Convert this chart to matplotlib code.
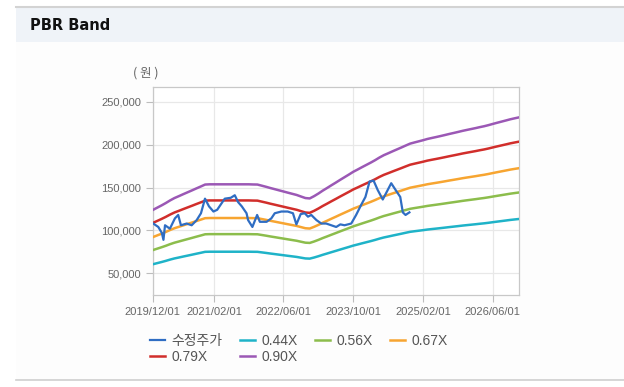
import matplotlib
matplotlib.use("Agg")
import matplotlib.pyplot as plt
import matplotlib.dates as mdates
from matplotlib.patches import Rectangle
from matplotlib.lines import Line2D
import pandas as pd

# ---------------- data ----------------
band_start = "2019-12-01"
# book value per share (won), monthly from 2019-12 to 2026-12
bps = [137500, 140500, 143500, 146500, 150000, 153000, 155500, 158000, 160500, 163000,
       165500, 168000, 170500, 170800, 170800, 170800, 170800, 170800, 170800, 170800,
       170800, 170800, 170800, 170600, 170500, 169000, 167500, 166000, 164500, 163000,
       161500, 160000, 158500, 157000, 155000, 153000, 152500, 155500, 159000, 162500,
       166000, 169500, 173000, 176500, 180000, 183500, 187000, 190000, 193000, 196000,
       199000, 202000, 205500, 208500, 211000, 213500, 216000, 218500, 221000, 223500,
       225000, 226500, 228000, 229500, 230800, 232000, 233300, 234600, 236000, 237300,
       238600, 240000, 241200, 242400, 243600, 244800, 246000, 247400, 249000, 250500,
       252000, 253500, 255000, 256300, 257500]
band_multiples = [0.44, 0.56, 0.67, 0.79, 0.90]
band_labels = ["0.44X", "0.56X", "0.67X", "0.79X", "0.90X"]

price_dates = ["2019-12-05", "2020-01-09", "2020-02-03", "2020-02-14", "2020-02-25",
               "2020-03-30", "2020-05-04", "2020-05-27", "2020-06-15", "2020-07-25",
               "2020-08-29", "2020-10-03", "2020-11-02", "2020-11-30", "2020-12-28",
               "2021-01-28", "2021-02-23", "2021-04-17", "2021-05-29", "2021-06-26",
               "2021-07-19", "2021-08-14", "2021-09-16", "2021-09-27", "2021-10-27",
               "2021-11-29", "2021-12-18", "2022-02-03", "2022-03-08", "2022-04-01",
               "2022-05-17", "2022-06-30", "2022-08-06", "2022-08-30", "2022-09-29",
               "2022-10-27", "2022-11-19", "2022-12-12", "2023-01-17", "2023-02-20",
               "2023-03-26", "2023-04-30", "2023-06-04", "2023-07-03", "2023-08-01",
               "2023-09-17", "2023-10-21", "2023-11-26", "2023-12-25", "2024-01-23",
               "2024-02-20", "2024-03-20", "2024-04-24", "2024-05-22", "2024-06-22",
               "2024-07-27", "2024-08-24", "2024-09-11", "2024-09-30", "2024-10-27"]
price_values = [108000, 104000, 97000, 89000, 106000, 102000, 114000, 118000, 106000, 108000,
                106000, 112000, 120000, 137000, 128000, 122000, 124000, 137000, 138000, 141000,
                133000, 128000, 120000, 112000, 104000, 118000, 110000, 110000, 114000, 120000,
                122000, 122000, 120000, 107000, 119000, 120000, 116000, 118000, 112000, 108000,
                108000, 106000, 104000, 107000, 106000, 108000, 118000, 130000, 139000, 157000,
                158000, 147000, 136000, 145000, 155000, 146000, 139000, 121000, 118000, 121000]
price_label = "수정주가"

xtick_dates = ["2019-12-01", "2021-02-01", "2022-06-01", "2023-10-01", "2025-02-01", "2026-06-01"]
ytick_values = [50000, 100000, 150000, 200000, 250000]

# ---------------- style ----------------
colors_band = ["#1FB3C8", "#8CBD4C", "#F7A531", "#D12E2B", "#9B58B5"]
color_price = "#2F6DC3"
W, H = 624, 387

fig = plt.figure(figsize=(W / 100, H / 100), dpi=100)
fig.patch.set_facecolor("white")

def fx(px):
    return px / W

def fy(py):
    return 1 - py / H

# header & panel backgrounds
fig.patches.append(Rectangle((fx(16), fy(380)), fx(W - 16), (380 - 42) / H,
                             transform=fig.transFigure, facecolor="#FDFDFD",
                             edgecolor="none", zorder=-2))
fig.patches.append(Rectangle((fx(16), fy(42)), fx(W - 16), (42 - 7) / H,
                             transform=fig.transFigure, facecolor="#EFF3F8",
                             edgecolor="none", zorder=-2))
fig.lines.append(Line2D([fx(16), 1], [fy(6.5), fy(6.5)], transform=fig.transFigure,
                        color="#D3D3D3", lw=1.5, zorder=-1))
fig.lines.append(Line2D([fx(16), 1], [fy(380), fy(380)], transform=fig.transFigure,
                        color="#CFCFCF", lw=1.2, zorder=-1))
fig.text(fx(30), fy(25), "PBR Band", fontsize=10.5, fontweight="bold",
         family=["DejaVu Sans"], color="#111111", va="center", ha="left")

ax = fig.add_axes([fx(152.7), fy(295), (519 - 152.7) / W, (295 - 86.7) / H])
ax.set_zorder(5)
ax.set_facecolor("white")

band_dates = pd.date_range(band_start, periods=len(bps), freq="MS")
handles = []
pdates = pd.to_datetime(price_dates)
hp, = ax.plot(pdates, price_values, color=color_price, lw=1.6, zorder=5, label=price_label)
for m, lab, c in zip(band_multiples, band_labels, colors_band):
    vals = [m * b for b in bps]
    h, = ax.plot(band_dates, vals, color=c, lw=1.8, zorder=3, label=lab)
    handles.append(h)

ax.set_xlim(pd.Timestamp("2019-12-01"), pd.Timestamp("2026-12-01"))
ax.set_ylim(24700, 267500)
ax.set_xticks(pd.to_datetime(xtick_dates))
ax.xaxis.set_major_formatter(mdates.DateFormatter("%Y/%m/%d"))
ax.set_yticks(ytick_values)
ax.set_yticklabels([f"{v:,}" for v in ytick_values])

ax.grid(True, color="#E8E8E8", lw=0.9)
ax.set_axisbelow(True)
for s in ax.spines.values():
    s.set_color("#C8C8C8")
    s.set_linewidth(0.9)
ax.tick_params(axis="both", colors="#BDBDBD", length=5, width=0.8,
               labelcolor="#666666", labelsize=8)
for t in ax.get_xticklabels() + ax.get_yticklabels():
    t.set_family(["Liberation Sans", "DejaVu Sans"])

fig.text(fx(146), fy(73), "( 원 )", fontsize=9, color="#666666",
         family=["Noto Sans CJK KR"], ha="center", va="center")

# legend laid out row-wise: 수정주가, 0.44X, 0.56X, 0.67X / 0.79X, 0.90X
order_h = [hp, handles[3], handles[0], handles[4], handles[1], handles[2]]
order_l = [price_label, band_labels[3], band_labels[0], band_labels[4], band_labels[1], band_labels[2]]
leg = fig.legend(handles=order_h, labels=order_l,
                 ncol=4, loc="upper left", bbox_to_anchor=(fx(144.5), fy(328)),
                 frameon=False, handlelength=1.1, handletextpad=0.45,
                 columnspacing=1.25, labelspacing=0.2, borderaxespad=0,
                 prop={"family": ["Liberation Sans", "Noto Sans CJK KR"], "size": 10})
for t in leg.get_texts():
    t.set_color("#555555")

fig.savefig("out.png", dpi=100)
